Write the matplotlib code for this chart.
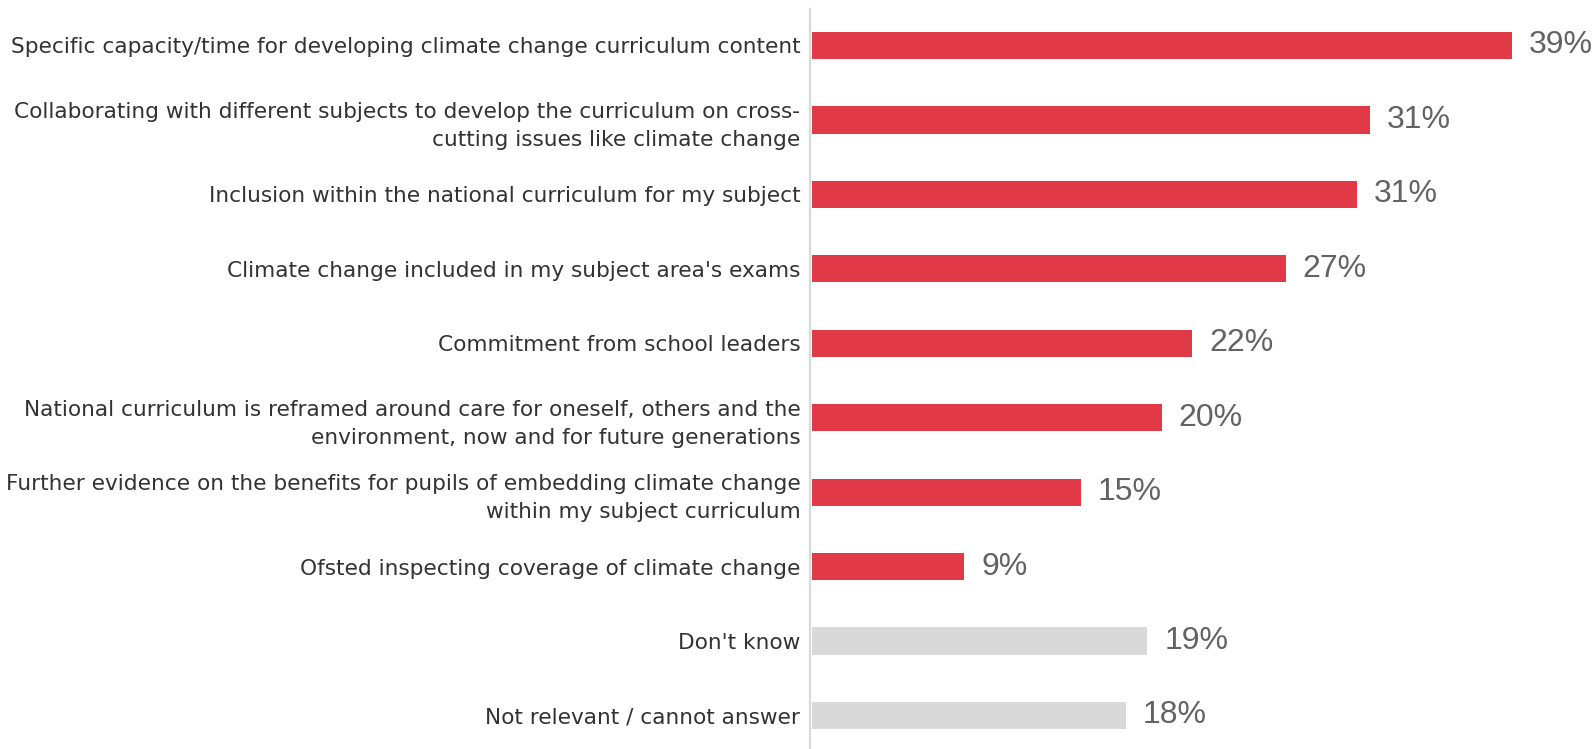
import matplotlib.pyplot as plt

categories = [
    "Specific capacity/time for developing climate change curriculum content",
    "Collaborating with different subjects to develop the curriculum on cross-\ncutting issues like climate change",
    "Inclusion within the national curriculum for my subject",
    "Climate change included in my subject area's exams",
    "Commitment from school leaders",
    "National curriculum is reframed around care for oneself, others and the\nenvironment, now and for future generations",
    "Further evidence on the benefits for pupils of embedding climate change\nwithin my subject curriculum",
    "Ofsted inspecting coverage of climate change",
    "Don't know",
    "Not relevant / cannot answer",
]
# bar lengths as drawn, and the rounded labels printed next to them
values = [39.0, 31.1, 30.4, 26.4, 21.2, 19.5, 15.0, 8.5, 18.7, 17.5]
labels = ["39%", "31%", "31%", "27%", "22%", "20%", "15%", "9%", "19%", "18%"]
is_other = [False] * 8 + [True] * 2

RED = "#e13a46"
GREY = "#d9d9d9"

fig = plt.figure(figsize=(15.96, 7.49), dpi=100)
# axes: left edge at the grey axis line, top a little below figure top
ax = fig.add_axes([810 / 1596, 0.0, 1 - 810 / 1596, (749 - 9) / 749])

colors = [GREY if o else RED for o in is_other]
ypos = list(range(len(values)))
ax.barh(ypos, values, height=0.365, color=colors, left=0.1)

for y, v, lab in zip(ypos, values, labels):
    ax.annotate(lab, xy=(v + 0.1, y), xytext=(12, 0), textcoords="offset points",
                ha="left", va="center", fontsize=23, color="#636363",
                family="Liberation Sans")

ax.set_xlim(0, 786 / 17.95)
ax.set_ylim(9.45, -0.49)

ax.set_yticks(ypos)
ax.set_yticklabels(categories, fontsize=15.6, color="#333333", family="DejaVu Sans",
                   linespacing=1.5)
ax.tick_params(axis="y", length=0, pad=7)
ax.set_xticks([])

for s in ["top", "right", "bottom"]:
    ax.spines[s].set_visible(False)
ax.spines["left"].set_color(GREY)
ax.spines["left"].set_linewidth(1.6)

fig.savefig("out.png", dpi=100)
